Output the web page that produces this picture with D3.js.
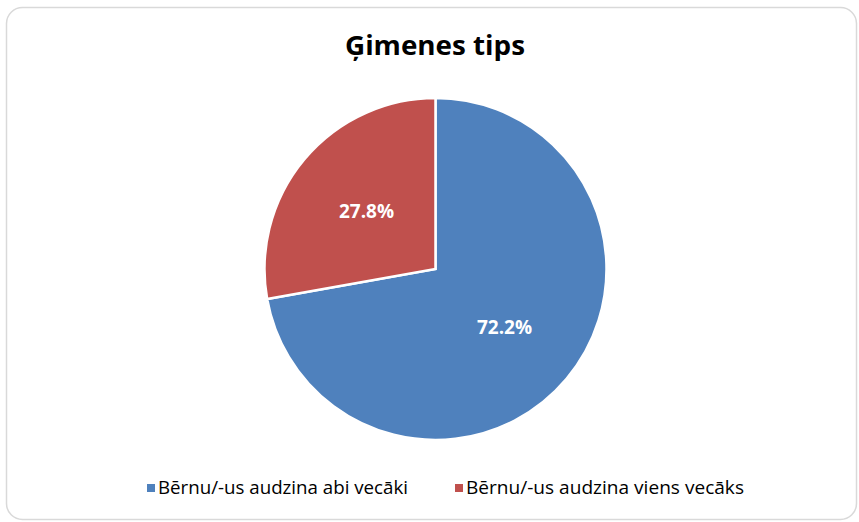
<!DOCTYPE html>
<html><head><meta charset="utf-8">
<script src="https://cdn.jsdelivr.net/npm/d3@7"></script>
<style>body{margin:0;background:#fff;} text{font-family:"Open Sans",Lato,sans-serif;}</style>
</head><body>
<svg id="c" width="859" height="522"></svg>
<script>
const title = "Ģimenes tips";
const categories = ["Bērnu/-us audzina abi vecāki", "Bērnu/-us audzina viens vecāks"];
const values = [72.2, 27.8];
const labels = ["72.2%", "27.8%"];
const colors = ["#4F81BD", "#C0504D"];

const svg = d3.select("#c");
svg.append("rect").attr("x",6.5).attr("y",7.5).attr("width",850).attr("height",512)
  .attr("rx",16).attr("fill","#fff").attr("stroke","#d9d9d9").attr("stroke-width",1.5);

svg.append("text").attr("x",435).attr("y",55).attr("text-anchor","middle")
  .attr("font-size",26).attr("font-weight","bold").attr("fill","#000")
  .attr("textLength",180).attr("lengthAdjust","spacingAndGlyphs").text(title);

const cx = 435.5, cy = 269, r = 171;
const data = categories.map((c,i)=>({c, v: values[i], l: labels[i], col: colors[i]}));
const pie = d3.pie().value(d=>d.v).sort(null);
const arc = d3.arc().innerRadius(0).outerRadius(r);
const g = svg.append("g").attr("transform",`translate(${cx},${cy})`);
const arcs = pie(data);
g.selectAll("path").data(arcs).join("path").attr("d",arc)
  .attr("fill",d=>d.data.col).attr("stroke","#fff").attr("stroke-width",2.5).attr("stroke-linejoin","miter");
const lr = 90;
g.selectAll("text.lab").data(arcs).join("text").attr("class","lab")
  .attr("x",d=>{const a=(d.startAngle+d.endAngle)/2; return lr*Math.sin(a);})
  .attr("y",d=>{const a=(d.startAngle+d.endAngle)/2; return -lr*Math.cos(a);})
  .attr("dy","0.36em").attr("text-anchor","middle").attr("fill","#fff")
  .attr("font-weight","bold").attr("font-size",19).text(d=>d.data.l);

const legX = [147, 455];
const legW = [250, 278];
const lg = svg.selectAll("g.leg").data(data).join("g").attr("class","leg")
  .attr("transform",(d,i)=>`translate(${legX[i]},488)`);
lg.append("rect").attr("x",0).attr("y",-4).attr("width",8).attr("height",8).attr("fill",d=>d.col);
lg.append("text").attr("x",11).attr("y",0).attr("dy","0.36em").attr("font-size",18).attr("fill","#000")
  .attr("textLength",(d,i)=>legW[i]).attr("lengthAdjust","spacingAndGlyphs").text(d=>d.c);
</script>
</body></html>
